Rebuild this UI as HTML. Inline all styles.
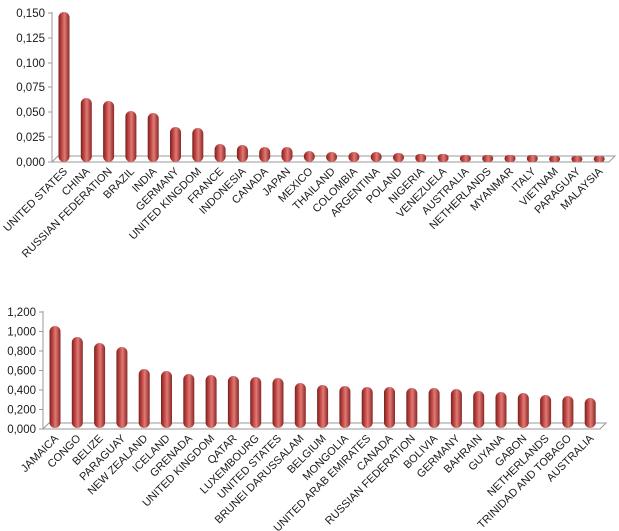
<!DOCTYPE html>
<html><head><meta charset="utf-8"><style>
html,body{margin:0;padding:0;background:#fff}
svg{display:block}
text{font-family:"Liberation Sans",sans-serif;fill:#1a1a1a}
.y{font-size:11.5px;text-anchor:end}
.l{font-size:11px;text-anchor:end}
</style></head><body>
<svg width="619" height="531" viewBox="0 0 619 531" xmlns="http://www.w3.org/2000/svg">
<defs>
<linearGradient id="g" x1="0" x2="1" y1="0" y2="0">
<stop offset="0" stop-color="#7a1f1d"/><stop offset="0.35" stop-color="#c9504c"/><stop offset="0.55" stop-color="#e07a76"/><stop offset="1" stop-color="#8a2624"/>
</linearGradient>
</defs>
<!-- chart 1 -->
<g stroke="#999" stroke-width="1" fill="none">
<line x1="52" y1="12" x2="52" y2="162"/>
<polyline points="52,162 58,156 615,156 609,162 52,162"/>
</g>
<g stroke="#999">
<line x1="48" y1="13" x2="52" y2="13"/><line x1="48" y1="38" x2="52" y2="38"/><line x1="48" y1="63" x2="52" y2="63"/><line x1="48" y1="87" x2="52" y2="87"/><line x1="48" y1="112" x2="52" y2="112"/><line x1="48" y1="137" x2="52" y2="137"/><line x1="48" y1="162" x2="52" y2="162"/>
</g>
<g><text x="45" y="17" class="y">0,150</text><text x="45" y="42" class="y">0,125</text><text x="45" y="67" class="y">0,100</text><text x="45" y="91" class="y">0,075</text><text x="45" y="116" class="y">0,050</text><text x="45" y="141" class="y">0,025</text><text x="45" y="166" class="y">0,000</text></g>
<g fill="url(#g)">
<rect x="58.5" y="12" width="11" height="150" rx="5.5"/>
<rect x="80.8" y="98" width="11" height="64" rx="5.5"/>
<rect x="103.1" y="101" width="11" height="61" rx="5.5"/>
<rect x="125.4" y="111" width="11" height="51" rx="5.5"/>
<rect x="147.7" y="113" width="11" height="49" rx="5.5"/>
<rect x="170" y="127" width="11" height="35" rx="5.5"/>
<rect x="192.3" y="128" width="11" height="34" rx="5.5"/>
<rect x="214.6" y="144" width="11" height="18" rx="5.5"/>
<rect x="236.9" y="145" width="11" height="17" rx="5.5"/>
<rect x="259.2" y="147" width="11" height="15" rx="5.5"/>
<rect x="281.5" y="147" width="11" height="15" rx="5.5"/>
<rect x="303.8" y="151" width="11" height="11" rx="5.5"/>
<rect x="326.1" y="152" width="11" height="10" rx="5"/>
<rect x="348.4" y="152" width="11" height="10" rx="5"/>
<rect x="370.7" y="152" width="11" height="10" rx="5"/>
<rect x="393" y="153" width="11" height="9" rx="4.5"/>
<rect x="415.3" y="154" width="11" height="8" rx="4"/>
<rect x="437.6" y="154" width="11" height="8" rx="4"/>
<rect x="459.9" y="155" width="11" height="7" rx="3.5"/>
<rect x="482.2" y="155" width="11" height="7" rx="3.5"/>
<rect x="504.5" y="155" width="11" height="7" rx="3.5"/>
<rect x="526.8" y="155" width="11" height="7" rx="3.5"/>
<rect x="549.1" y="156" width="11" height="6" rx="3"/>
<rect x="571.4" y="156" width="11" height="6" rx="3"/>
<rect x="593.7" y="156" width="11" height="6" rx="3"/>
</g>
<g>
<text class="l" transform="translate(68,172) rotate(-45)">UNITED STATES</text>
<text class="l" transform="translate(90.3,172) rotate(-45)">CHINA</text>
<text class="l" transform="translate(112.6,172) rotate(-45)">RUSSIAN FEDERATION</text>
<text class="l" transform="translate(134.9,172) rotate(-45)">BRAZIL</text>
<text class="l" transform="translate(157.2,172) rotate(-45)">INDIA</text>
<text class="l" transform="translate(179.5,172) rotate(-45)">GERMANY</text>
<text class="l" transform="translate(201.8,172) rotate(-45)">UNITED KINGDOM</text>
<text class="l" transform="translate(224.1,172) rotate(-45)">FRANCE</text>
<text class="l" transform="translate(246.4,172) rotate(-45)">INDONESIA</text>
<text class="l" transform="translate(268.7,172) rotate(-45)">CANADA</text>
<text class="l" transform="translate(291,172) rotate(-45)">JAPAN</text>
<text class="l" transform="translate(313.3,172) rotate(-45)">MEXICO</text>
<text class="l" transform="translate(335.6,172) rotate(-45)">THAILAND</text>
<text class="l" transform="translate(357.9,172) rotate(-45)">COLOMBIA</text>
<text class="l" transform="translate(380.2,172) rotate(-45)">ARGENTINA</text>
<text class="l" transform="translate(402.5,172) rotate(-45)">POLAND</text>
<text class="l" transform="translate(424.8,172) rotate(-45)">NIGERIA</text>
<text class="l" transform="translate(447.1,172) rotate(-45)">VENEZUELA</text>
<text class="l" transform="translate(469.4,172) rotate(-45)">AUSTRALIA</text>
<text class="l" transform="translate(491.7,172) rotate(-45)">NETHERLANDS</text>
<text class="l" transform="translate(514,172) rotate(-45)">MYANMAR</text>
<text class="l" transform="translate(536.3,172) rotate(-45)">ITALY</text>
<text class="l" transform="translate(558.6,172) rotate(-45)">VIETNAM</text>
<text class="l" transform="translate(580.9,172) rotate(-45)">PARAGUAY</text>
<text class="l" transform="translate(603.2,172) rotate(-45)">MALAYSIA</text>
</g>
<!-- chart 2 -->
<g stroke="#999" stroke-width="1" fill="none">
<line x1="43" y1="311" x2="43" y2="429"/>
<polyline points="43,429 49,423 606,423 600,429 43,429"/>
</g>
<g stroke="#999">
<line x1="39" y1="312" x2="43" y2="312"/><line x1="39" y1="331.5" x2="43" y2="331.5"/><line x1="39" y1="351" x2="43" y2="351"/><line x1="39" y1="370.5" x2="43" y2="370.5"/><line x1="39" y1="390" x2="43" y2="390"/><line x1="39" y1="409.5" x2="43" y2="409.5"/><line x1="39" y1="429" x2="43" y2="429"/>
</g>
<g><text x="36" y="316" class="y">1,200</text><text x="36" y="335.5" class="y">1,000</text><text x="36" y="355" class="y">0,800</text><text x="36" y="374.5" class="y">0,600</text><text x="36" y="394" class="y">0,400</text><text x="36" y="413.5" class="y">0,200</text><text x="36" y="433" class="y">0,000</text></g>
<g fill="url(#g)">
<rect x="49.5" y="326" width="11" height="102" rx="5.5"/>
<rect x="71.8" y="337" width="11" height="91" rx="5.5"/>
<rect x="94.1" y="343" width="11" height="85" rx="5.5"/>
<rect x="116.4" y="347" width="11" height="81" rx="5.5"/>
<rect x="138.7" y="369" width="11" height="59" rx="5.5"/>
<rect x="161" y="371" width="11" height="57" rx="5.5"/>
<rect x="183.3" y="374" width="11" height="54" rx="5.5"/>
<rect x="205.6" y="375" width="11" height="53" rx="5.5"/>
<rect x="227.9" y="376" width="11" height="52" rx="5.5"/>
<rect x="250.2" y="377" width="11" height="51" rx="5.5"/>
<rect x="272.5" y="378" width="11" height="50" rx="5.5"/>
<rect x="294.8" y="383" width="11" height="45" rx="5.5"/>
<rect x="317.1" y="385" width="11" height="43" rx="5.5"/>
<rect x="339.4" y="386" width="11" height="42" rx="5.5"/>
<rect x="361.7" y="387" width="11" height="41" rx="5.5"/>
<rect x="384" y="387" width="11" height="41" rx="5.5"/>
<rect x="406.3" y="388" width="11" height="40" rx="5.5"/>
<rect x="428.6" y="388" width="11" height="40" rx="5.5"/>
<rect x="450.9" y="389" width="11" height="39" rx="5.5"/>
<rect x="473.2" y="391" width="11" height="37" rx="5.5"/>
<rect x="495.5" y="392" width="11" height="36" rx="5.5"/>
<rect x="517.8" y="393" width="11" height="35" rx="5.5"/>
<rect x="540.1" y="395" width="11" height="33" rx="5.5"/>
<rect x="562.4" y="396" width="11" height="32" rx="5.5"/>
<rect x="584.7" y="398" width="11" height="30" rx="5.5"/>
</g>
<g>
<text class="l" transform="translate(59,439) rotate(-45)">JAMAICA</text>
<text class="l" transform="translate(81.3,439) rotate(-45)">CONGO</text>
<text class="l" transform="translate(103.6,439) rotate(-45)">BELIZE</text>
<text class="l" transform="translate(125.9,439) rotate(-45)">PARAGUAY</text>
<text class="l" transform="translate(148.2,439) rotate(-45)">NEW ZEALAND</text>
<text class="l" transform="translate(170.5,439) rotate(-45)">ICELAND</text>
<text class="l" transform="translate(192.8,439) rotate(-45)">GRENADA</text>
<text class="l" transform="translate(215.1,439) rotate(-45)">UNITED KINGDOM</text>
<text class="l" transform="translate(237.4,439) rotate(-45)">QATAR</text>
<text class="l" transform="translate(259.7,439) rotate(-45)">LUXEMBOURG</text>
<text class="l" transform="translate(282,439) rotate(-45)">UNITED STATES</text>
<text class="l" transform="translate(304.3,439) rotate(-45)">BRUNEI DARUSSALAM</text>
<text class="l" transform="translate(326.6,439) rotate(-45)">BELGIUM</text>
<text class="l" transform="translate(348.9,439) rotate(-45)">MONGOLIA</text>
<text class="l" transform="translate(371.2,439) rotate(-45)">UNITED ARAB EMIRATES</text>
<text class="l" transform="translate(393.5,439) rotate(-45)">CANADA</text>
<text class="l" transform="translate(415.8,439) rotate(-45)">RUSSIAN FEDERATION</text>
<text class="l" transform="translate(438.1,439) rotate(-45)">BOLIVIA</text>
<text class="l" transform="translate(460.4,439) rotate(-45)">GERMANY</text>
<text class="l" transform="translate(482.7,439) rotate(-45)">BAHRAIN</text>
<text class="l" transform="translate(505,439) rotate(-45)">GUYANA</text>
<text class="l" transform="translate(527.3,439) rotate(-45)">GABON</text>
<text class="l" transform="translate(549.6,439) rotate(-45)">NETHERLANDS</text>
<text class="l" transform="translate(571.9,439) rotate(-45)">TRINIDAD AND TOBAGO</text>
<text class="l" transform="translate(594.2,439) rotate(-45)">AUSTRALIA</text>
</g>
</svg>
</body></html>
